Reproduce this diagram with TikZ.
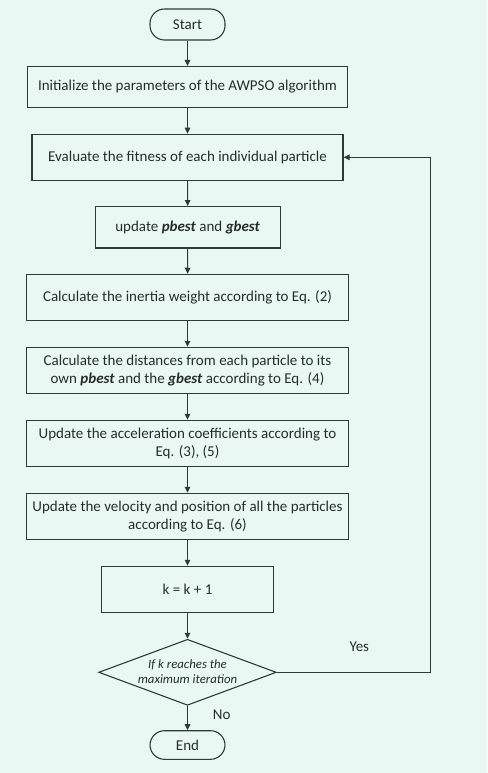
\documentclass[tikz,border=0pt]{standalone}
\usepackage{fontspec}
\setmainfont{Carlito}
\usetikzlibrary{shapes.geometric,arrows.meta}
\definecolor{bg}{HTML}{EAF8F3}
\definecolor{ln}{HTML}{2E3B35}
\definecolor{tx}{HTML}{262E2A}
\begin{document}
\begin{tikzpicture}[x=1pt,y=-1pt,
  every node/.style={text=tx},
  box/.style={draw=ln,line width=1.1pt,rectangle,inner sep=0pt,align=center,font=\fontsize{15}{17.7}\selectfont},
  term/.style={draw=ln,line width=1.1pt,rectangle,rounded corners=14.5pt,inner sep=0pt,minimum width=75pt,font=\fontsize{15}{17}\selectfont},
  decision/.style={draw=ln,line width=1.1pt,diamond,inner sep=0pt,minimum width=177.6pt,minimum height=66pt},
  dectext/.style={align=center,font=\fontsize{12.8}{15}\selectfont\itshape,inner sep=0pt},
  lbl/.style={font=\fontsize{15}{17}\selectfont,inner sep=0pt},
  conn/.style={draw=ln,line width=1.1pt,-{Triangle[length=6pt,width=5.5pt]}}
]
\fill[bg] (0,0) rectangle (487,773);
\useasboundingbox (0,0) rectangle (487,773);

\node[term,minimum height=31pt] (start) at (187.5,24.5) {Start};
\node[box,minimum width=319.6pt,minimum height=41pt] (init) at (187.5,87) {Initialize the parameters of the AWPSO algorithm};
\node[box,minimum width=311pt,minimum height=46pt] (eval) at (187.5,157.3) {Evaluate the fitness of each individual particle};
\node[box,minimum width=185.3pt,minimum height=41.3pt] (upd) at (187.7,227.3) {update \textbf{\textit{pbest}} and \textbf{\textit{gbest}}};
\node[box,minimum width=322.4pt,minimum height=46.4pt] (iner) at (187.5,297.5) {Calculate the inertia weight according to Eq. (2)};
\node[box,minimum width=322.4pt,minimum height=46.4pt] (dist) at (187.5,370.5) {Calculate the distances from each particle to its\\own \textbf{\textit{pbest}} and the \textbf{\textit{gbest}} according to Eq. (4)};
\node[box,minimum width=322.4pt,minimum height=46.4pt] (acc) at (187.5,443.5) {Update the acceleration coefficients according to\\Eq. (3), (5)};
\node[box,minimum width=322.4pt,minimum height=46pt] (vel) at (187.5,516.3) {Update the velocity and position of all the particles\\according to Eq. (6)};
\node[box,minimum width=172.4pt,minimum height=46pt] (kk) at (187.5,589.3) {k = k + 1};
\node[decision] (dec) at (187.5,672.3) {};
\node[dectext] (dect) at (187.5,671.5) {If k reaches the\\maximum iteration};
\node[term,minimum height=28.6pt] (end) at (187.5,745) {End};

\node[lbl] (yes) at (359.3,646.7) {Yes};
\node[lbl] (no) at (221.7,715) {No};

\coordinate (cr) at (430.3,672.3);

\draw[conn] (start) -- (init);
\draw[conn] (init) -- (eval);
\draw[conn] (eval) -- (upd);
\draw[conn] (upd) -- (iner);
\draw[conn] (iner) -- (dist);
\draw[conn] (dist) -- (acc);
\draw[conn] (acc) -- (vel);
\draw[conn] (vel) -- (kk);
\draw[conn] (kk) -- (dec);
\draw[conn] (dec) -- (end);
\draw[conn] (dec.east) -- (cr) |- (eval.east);
\end{tikzpicture}
\end{document}
